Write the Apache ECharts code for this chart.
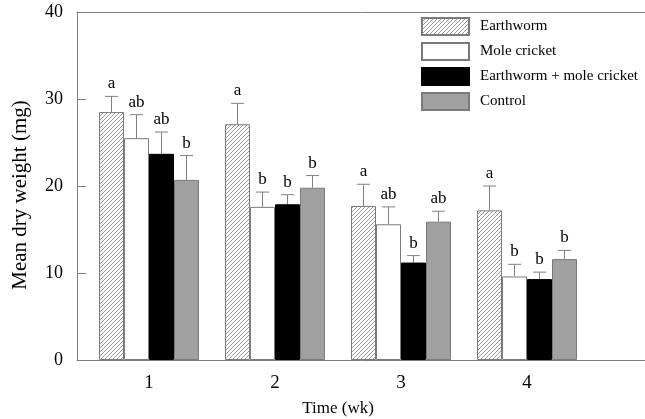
<!DOCTYPE html>
<html><head><meta charset="utf-8">
<script src="https://cdn.jsdelivr.net/npm/echarts@6/dist/echarts.min.js"></script>
<style>html,body{margin:0;padding:0;background:#fff}#c{width:645px;height:419px}</style>
</head><body><div id="c"></div>
<script>
var categories = ['1', '2', '3', '4'];
var seriesNames = ['Earthworm', 'Mole cricket', 'Earthworm + mole cricket', 'Control'];
var earthworm = [28.5, 27.1, 17.7, 17.2];
var moleCricket = [25.5, 17.6, 15.6, 9.6];
var combined = [23.7, 17.9, 11.2, 9.3];
var control = [20.7, 19.8, 15.9, 11.6];
var earthwormErr = [30.3, 29.5, 20.2, 20.0];
var moleCricketErr = [28.2, 19.3, 17.6, 11.0];
var combinedErr = [26.2, 19.0, 12.0, 10.1];
var controlErr = [23.5, 21.2, 17.1, 12.6];
var earthwormLetters = ['a', 'a', 'a', 'a'];
var moleCricketLetters = ['ab', 'b', 'ab', 'b'];
var combinedLetters = ['ab', 'b', 'b', 'b'];
var controlLetters = ['b', 'b', 'ab', 'b'];
var yTicks = [0, 10, 20, 30, 40];

var FONT = '"Liberation Serif", "DejaVu Serif", serif';
var BW = 25;

// hatch pattern
var pc = document.createElement('canvas');
pc.width = 4; pc.height = 4;
var g = pc.getContext('2d');
g.fillStyle = '#fff'; g.fillRect(0, 0, 4, 4);
g.strokeStyle = '#9a9a9a'; g.lineWidth = 1;
g.beginPath();
g.moveTo(0, 4); g.lineTo(4, 0);
g.moveTo(-1, 1); g.lineTo(1, -1);
g.moveTo(3, 5); g.lineTo(5, 3);
g.stroke();

var values = [earthworm, moleCricket, combined, control];
var errs = [earthwormErr, moleCricketErr, combinedErr, controlErr];
var letters = [earthwormLetters, moleCricketLetters, combinedLetters, controlLetters];
var styles = [
  {color: {image: pc, repeat: 'repeat'}, borderColor: '#7a7a7a', borderWidth: 1},
  {color: '#ffffff', borderColor: '#7a7a7a', borderWidth: 1},
  {color: '#000000', borderColor: '#000000', borderWidth: 1},
  {color: '#a0a0a0', borderColor: '#7a7a7a', borderWidth: 1}
];

var series = [];
for (var s = 0; s < 4; s++) {
  series.push({
    name: seriesNames[s], type: 'bar', xAxisIndex: 1, yAxisIndex: 1,
    data: values[s], barWidth: BW, barGap: '0%',
    itemStyle: styles[s], silent: true, animation: false
  });
}
var errData = [];
for (var s2 = 0; s2 < 4; s2++) {
  for (var i = 0; i < categories.length; i++) {
    errData.push([i, values[s2][i], errs[s2][i], s2, letters[s2][i]]);
  }
}
series.push({
  type: 'custom', xAxisIndex: 1, yAxisIndex: 1, data: errData, animation: false, silent: true,
  renderItem: function (params, api) {
    var cat = api.value(0), s = api.value(3);
    var base = api.coord([cat, api.value(1)]);
    var top = api.coord([cat, api.value(2)]);
    var x = base[0] + (s - 1.5) * BW;
    var letter = errData[params.dataIndex][4];
    return {type: 'group', children: [
      {type: 'line', shape: {x1: x, y1: base[1], x2: x, y2: top[1]}, style: {stroke: '#808080', lineWidth: 1}},
      {type: 'line', shape: {x1: x - 6.5, y1: top[1], x2: x + 6.5, y2: top[1]}, style: {stroke: '#808080', lineWidth: 1}},
      {type: 'text', style: {text: letter, x: x, y: top[1] - 4, textAlign: 'center', textVerticalAlign: 'bottom', font: '17px ' + FONT, fill: '#000'}}
    ]};
  }
});

var chart = echarts.init(document.getElementById('c'), null, {renderer: 'canvas'});
chart.setOption({
  animation: false,
  backgroundColor: '#fff',
  legend: {
    orient: 'vertical', left: 416, top: 12, itemWidth: 47, itemHeight: 17, itemGap: 6,
    data: seriesNames, selectedMode: false,
    textStyle: {fontFamily: FONT, fontSize: 15, color: '#000', padding: [0, 0, 0, 6]},
    icon: 'rect'
  },
  grid: [
    {left: 77, right: -5, top: 12, bottom: 59, containLabel: false, outerBoundsMode: 'none'},
    {left: 86, right: 55, top: 12, bottom: 59, containLabel: false, outerBoundsMode: 'none'}
  ],
  xAxis: [
    {gridIndex: 0, type: 'value', min: 0, max: 1, axisLine: {show: true, lineStyle: {color: '#808080'}}, axisTick: {show: false}, axisLabel: {show: false}, splitLine: {show: false}},
    {gridIndex: 1, type: 'category', data: categories, axisLine: {show: false}, axisTick: {show: false},
     axisLabel: {fontFamily: FONT, fontSize: 19, color: '#000', margin: 14},
     name: 'Time (wk)', nameLocation: 'middle', nameGap: 40, nameTextStyle: {fontFamily: FONT, fontSize: 17, color: '#000'}},
    {gridIndex: 0, type: 'value', position: 'top', min: 0, max: 1, axisLine: {show: true, lineStyle: {color: '#808080'}}, axisTick: {show: false}, axisLabel: {show: false}, splitLine: {show: false}}
  ],
  yAxis: [
    {gridIndex: 0, type: 'value', min: yTicks[0], max: yTicks[yTicks.length - 1], interval: 10,
     axisLine: {show: true, lineStyle: {color: '#808080'}},
     axisTick: {show: true, inside: true, length: 9, lineStyle: {color: '#808080'}},
     axisLabel: {fontFamily: FONT, fontSize: 18, color: '#000', margin: 14},
     splitLine: {show: false},
     name: 'Mean dry weight (mg)', nameLocation: 'middle', nameGap: 46, nameTextStyle: {fontFamily: FONT, fontSize: 21, color: '#000', padding: [0, 18, 0, 0]}},
    {gridIndex: 1, type: 'value', min: 0, max: 40, show: false}
  ],
  series: series
});
</script></body></html>
